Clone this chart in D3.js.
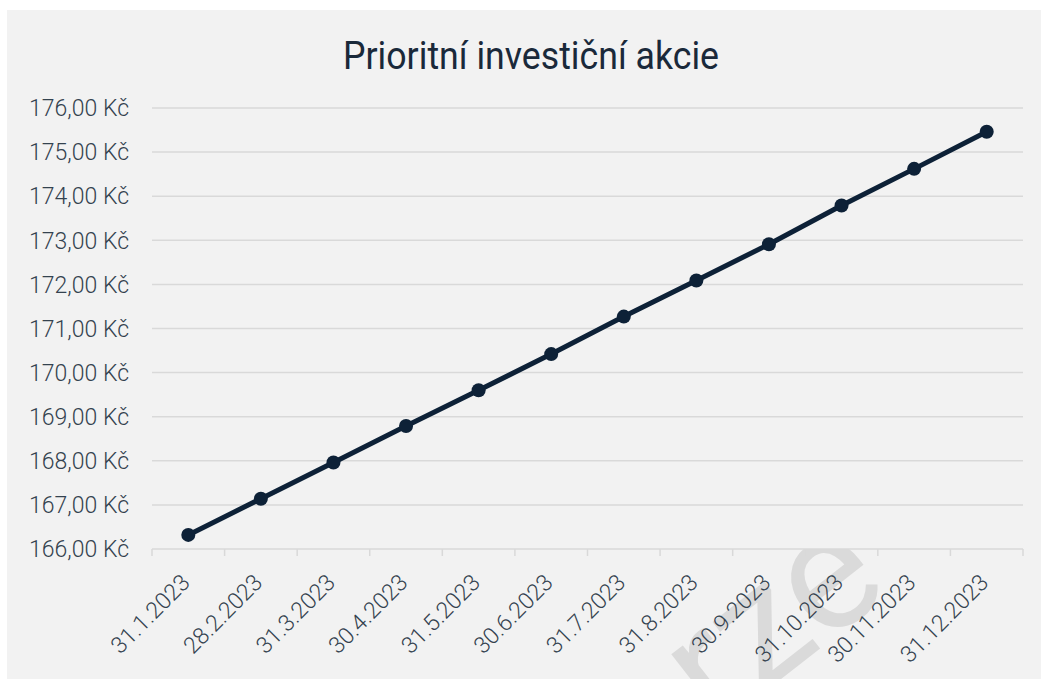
<!DOCTYPE html>
<html>
<head>
<meta charset="utf-8">
<script src="https://cdn.jsdelivr.net/npm/d3@7"></script>
<style>
  html, body { margin: 0; padding: 0; background: #ffffff; }
  svg { display: block; font-family: Roboto, "Noto Sans", sans-serif; }
</style>
</head>
<body>
<svg id="chart" width="1041" height="679"></svg>
<script>
var title = "Prioritní investiční akcie";
var dates = ["31.1.2023", "28.2.2023", "31.3.2023", "30.4.2023", "31.5.2023", "30.6.2023",
             "31.7.2023", "31.8.2023", "30.9.2023", "31.10.2023", "30.11.2023", "31.12.2023"];
var prices = [166.32, 167.14, 167.96, 168.79, 169.60, 170.42,
              171.27, 172.09, 172.91, 173.79, 174.62, 175.46];
var yTicks = [166, 167, 168, 169, 170, 171, 172, 173, 174, 175, 176];

var svg = d3.select('#chart'),
    margin = {top: 108, right: 18, bottom: 130, left: 152},
    width = 1041 - margin.left - margin.right,
    height = 679 - margin.top - margin.bottom,
    textColor = '#34424f',
    lineColor = '#0d2137',
    gridColor = '#d9d9d9';

var czk = d3.formatLocale({decimal: ",", thousands: "\u00a0", grouping: [3], currency: ["", " Kč"]});
var fmt = czk.format(".2f");

// panel background
svg.append('rect')
    .attr('x', 7).attr('y', 10)
    .attr('width', 1041 - 7).attr('height', 679 - 10)
    .attr('fill', '#f2f2f2');

var x = d3.scaleBand().domain(dates).range([0, width]).padding(0),
    y = d3.scaleLinear().domain([166, 176]).range([height, 0]);

// watermark, only peeking out below the plot
svg.append('g')
    .attr('transform', 'translate(716,730) rotate(-38)')
  .append('text')
    .attr('font-size', 165)
    .attr('font-weight', 400)
    .attr('fill', '#dadada')
    .text('rze');

var g = svg.append('g')
    .attr('transform', 'translate(' + margin.left + ',' + margin.top + ')');

// plot area covers the watermark
g.append('rect')
    .attr('width', width).attr('height', height)
    .attr('fill', '#f2f2f2');

svg.append('text')
    .attr('x', 531).attr('y', 69)
    .attr('text-anchor', 'middle')
    .attr('font-size', 38)
    .attr('font-weight', 400)
    .attr('fill', '#1a293a')
    .attr('textLength', 376)
    .attr('lengthAdjust', 'spacingAndGlyphs')
    .text(title);

// horizontal grid
g.selectAll('.grid')
    .data(yTicks.slice(1))
  .enter().append('line')
    .attr('class', 'grid')
    .attr('x1', 0).attr('x2', width)
    .attr('y1', function (d) { return y(d); })
    .attr('y2', function (d) { return y(d); })
    .attr('stroke', gridColor)
    .attr('stroke-width', 1.5);

// y labels
g.selectAll('.ylab')
    .data(yTicks)
  .enter().append('text')
    .attr('class', 'ylab')
    .attr('x', -23)
    .attr('y', function (d) { return y(d); })
    .attr('dy', '0.36em')
    .attr('text-anchor', 'end')
    .attr('font-size', 23)
    .attr('font-weight', 300)
    .attr('fill', textColor)
    .text(function (d) { return fmt(d) + ' Kč'; });

// x axis line and ticks at band edges
g.append('line')
    .attr('x1', 0).attr('x2', width)
    .attr('y1', height).attr('y2', height)
    .attr('stroke', gridColor)
    .attr('stroke-width', 1.5);

var edges = dates.map(function (d) { return x(d); }).concat([width]);
g.selectAll('.xtick')
    .data(edges)
  .enter().append('line')
    .attr('class', 'xtick')
    .attr('x1', function (d) { return d; })
    .attr('x2', function (d) { return d; })
    .attr('y1', height).attr('y2', height + 7)
    .attr('stroke', gridColor)
    .attr('stroke-width', 1.5);

// x labels, rotated
g.selectAll('.xlab')
    .data(dates)
  .enter().append('text')
    .attr('class', 'xlab')
    .attr('transform', function (d) {
        return 'translate(' + (x(d) + x.bandwidth() / 2 + 3) + ',' + (height + 35) + ') rotate(-45)';
    })
    .attr('text-anchor', 'end')
    .attr('font-size', 23)
    .attr('font-weight', 300)
    .attr('fill', textColor)
    .text(function (d) { return d; });

// series line
var line = d3.line()
    .x(function (d, i) { return x(dates[i]) + x.bandwidth() / 2; })
    .y(function (d) { return y(d); });

g.append('path')
    .datum(prices)
    .attr('d', line)
    .attr('fill', 'none')
    .attr('stroke', lineColor)
    .attr('stroke-width', 5)
    .attr('stroke-linejoin', 'round');

g.selectAll('.dot')
    .data(prices)
  .enter().append('circle')
    .attr('class', 'dot')
    .attr('cx', function (d, i) { return x(dates[i]) + x.bandwidth() / 2; })
    .attr('cy', function (d) { return y(d); })
    .attr('r', 7)
    .attr('fill', lineColor);
</script>
</body>
</html>
